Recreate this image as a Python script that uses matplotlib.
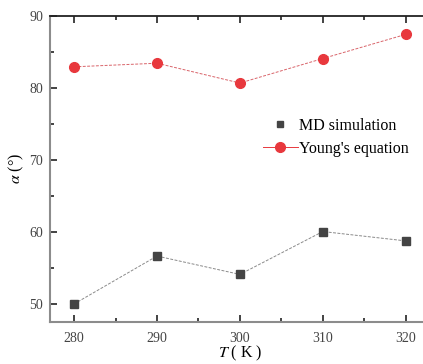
import matplotlib
matplotlib.use("Agg")
import matplotlib.pyplot as plt
from matplotlib.lines import Line2D
from matplotlib.ticker import MultipleLocator

T = [280, 290, 300, 310, 320]
md = [50.05, 56.7, 54.15, 60.1, 58.8]
young = [82.95, 83.45, 80.7, 84.1, 87.45]
xticks = [280, 290, 300, 310, 320]
yticks = [50, 60, 70, 80, 90]

plt.rcParams['font.family'] = ['Liberation Serif', 'DejaVu Serif']
plt.rcParams['mathtext.fontset'] = 'stix'

fig = plt.figure(figsize=(4.23, 3.64), dpi=100)
W, H = 423, 364
left, right, top, bottom = 50, 424, 16, 322
ax = fig.add_axes([left / W, 1 - bottom / H, (right - left) / W, (bottom - top) / H])

red = '#e8383d'
gray = '#444444'
ax.plot(T, md, linestyle=(0, (3, 1.5)), color='#8a8a8a', lw=0.7, marker='s',
        markersize=6, markerfacecolor=gray, markeredgecolor=gray, zorder=3)
ax.plot(T, young, linestyle=(0, (3, 1.5)), color='#d9646a', lw=0.7, marker='o',
        markersize=7, markerfacecolor=red, markeredgecolor=red, zorder=3)

ax.set_xlim(277.1, 322.2)
ax.set_ylim(47.55, 90)
ax.set_xticks(xticks)
ax.set_yticks(yticks)
ax.xaxis.set_minor_locator(MultipleLocator(5))
ax.yaxis.set_minor_locator(MultipleLocator(5))
ax.tick_params(which='both', direction='in', top=True, right=False,
               labelsize=10, colors='#222222')
ax.tick_params(axis='x', pad=7)
ax.tick_params(axis='y', pad=5)
for lab in ax.get_xticklabels() + ax.get_yticklabels():
    lab.set_color('#444444')
ax.tick_params(which='major', length=5, width=1.2)
ax.tick_params(which='minor', length=3, width=1.2)
for s in ['left', 'bottom']:
    ax.spines[s].set_color('#8c8c8c')
    ax.spines[s].set_linewidth(1.5)
ax.spines['top'].set_color('#222222')
ax.spines['top'].set_linewidth(1.3)
ax.spines['right'].set_visible(False)

ax.set_xlabel(r'$T$ ( K )', fontsize=11.5)
ax.xaxis.set_label_coords((240 - left) / (right - left), -(353 - bottom) / (bottom - top), transform=ax.transAxes)
ax.xaxis.label.set_verticalalignment('center')
ax.set_ylabel(r'$\alpha$ (°)', fontsize=11.5)
ax.yaxis.set_label_coords(-(left - 16) / (right - left), (bottom - 168) / (bottom - top), transform=ax.transAxes)
ax.yaxis.label.set_verticalalignment('center')

handles = [
    Line2D([], [], linestyle='none', marker='s', markersize=5,
           markerfacecolor=gray, markeredgecolor=gray),
    Line2D([], [], color=red, lw=0.7, marker='o', markersize=7,
           markerfacecolor=red, markeredgecolor=red),
]
ax.legend(handles, ['MD simulation', "Young's equation"], frameon=False,
          fontsize=11.5, loc='upper left', bbox_to_anchor=(0.53, 0.715),
          handlelength=2.2, handletextpad=0.1, labelspacing=0.45)

fig.savefig('out.png', dpi=100)
